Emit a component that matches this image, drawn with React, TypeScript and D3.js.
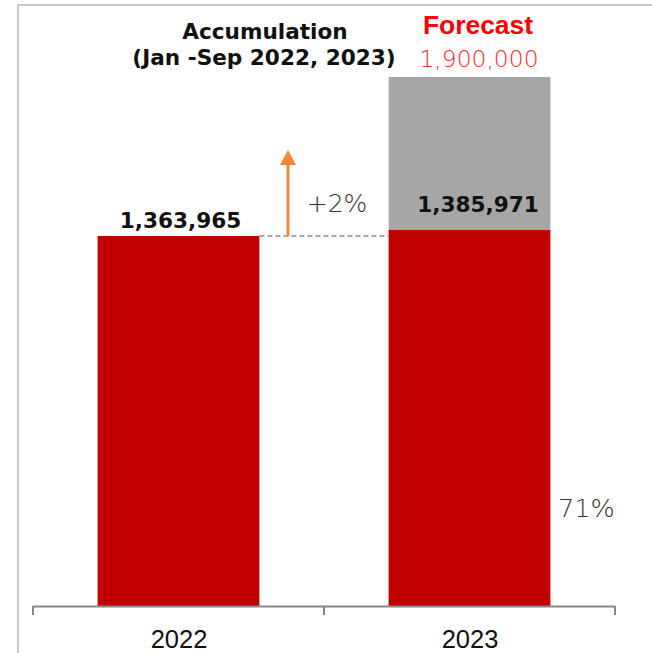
import React from "react";
import * as d3 from "d3";

const categories = ["2022", "2023"];
const actualValues = [1363965, 1385971];
const forecastTotals = [0, 1950000];
const actualLabels = ["1,363,965", "1,385,971"];
const forecastLabel = "1,900,000";
const growthLabel = "+2%";
const shareLabel = "71%";
const titleLines = ["Accumulation", "(Jan -Sep 2022, 2023)"];

const W = 652;
const H = 653;

export default function App() {
  const x = d3.scaleBand<string>().domain(categories).range([33, 615]).padding(0);
  const y = d3.scaleLinear().domain([0, 2000000]).range([606, 63.4]);
  const bw = x.bandwidth() * 0.556;
  const barX = (c: string) => (x(c) as number) + x.bandwidth() / 2 - bw / 2;
  const c0 = categories[0];
  const c1 = categories[1];
  const base0 = y(actualValues[0]);
  const arrowX = 288;
  const boldFont = "'DejaVu Sans', Verdana, sans-serif";
  const lightFont = "'DejaVu Sans', sans-serif";

  return (
    <div style={{ position: "fixed", left: 0, top: 0, width: W, height: H, background: "#fff" }}>
      <svg width={W} height={H} style={{ display: "block" }}>
        <rect x={0} y={0} width={W} height={H} fill="#fff" />
        {/* frame lines */}
        <line x1={17} x2={W} y1={5} y2={5} stroke="#c8c8c8" strokeWidth={2} />
        <line x1={18} x2={18} y1={4} y2={H} stroke="#c8c8c8" strokeWidth={2} />

        {/* forecast grey segment */}
        {categories.map((c, i) =>
          forecastTotals[i] > actualValues[i] ? (
            <rect
              key={"g" + c}
              x={barX(c)}
              y={y(forecastTotals[i])}
              width={bw}
              height={y(actualValues[i]) - y(forecastTotals[i])}
              fill="#a6a6a6"
            />
          ) : null
        )}
        {/* actual red bars */}
        {categories.map((c, i) => (
          <rect
            key={"r" + c}
            x={barX(c)}
            y={y(actualValues[i])}
            width={bw}
            height={y(0) - y(actualValues[i])}
            fill="#c00000"
          />
        ))}

        {/* dashed reference line */}
        <line
          x1={barX(c0) + bw}
          x2={barX(c1)}
          y1={base0}
          y2={base0}
          stroke="#a6a6a6"
          strokeWidth={2}
          strokeDasharray="5,3"
        />
        {/* orange arrow */}
        <line x1={arrowX} x2={arrowX} y1={base0} y2={163} stroke="#f4873a" strokeWidth={3} />
        <path d={`M${arrowX - 8},165 L${arrowX + 8},165 L${arrowX},150 Z`} fill="#f4873a" />

        {/* axis */}
        <line x1={33} x2={615} y1={606.5} y2={606.5} stroke="#868686" strokeWidth={2} />
        {[33, ...categories.map((c) => (x(c) as number) + x.bandwidth())].map((t, i) => (
          <line key={"t" + i} x1={t} x2={t} y1={606} y2={615} stroke="#868686" strokeWidth={2} />
        ))}
        {categories.map((c) => (
          <text
            key={"c" + c}
            x={(x(c) as number) + x.bandwidth() / 2 + 0.5}
            y={648}
            textAnchor="middle"
            fontFamily="'Liberation Sans', Arial, sans-serif"
            fontSize={25.5}
            fill="#111"
          >
            {c}
          </text>
        ))}

        {/* value labels */}
        <text
          x={barX(c0) + bw / 2 + 2}
          y={y(actualValues[0]) - 8}
          textAnchor="middle"
          fontFamily={boldFont}
          fontWeight="bold"
          fontSize={21.6}
          fill="#111"
        >
          {actualLabels[0]}
        </text>
        <text
          x={barX(c1) + bw / 2 + 8.5}
          y={y(actualValues[1]) - 18}
          textAnchor="middle"
          fontFamily={boldFont}
          fontWeight="bold"
          fontSize={21.6}
          fill="#111"
        >
          {actualLabels[1]}
        </text>

        {/* title */}
        <text x={265} y={39} textAnchor="middle" fontFamily={boldFont} fontWeight="bold" fontSize={21.6} fill="#111">
          {titleLines[0]}
        </text>
        <text x={264} y={65} textAnchor="middle" fontFamily={boldFont} fontWeight="bold" fontSize={21.6} fill="#111">
          {titleLines[1]}
        </text>

        {/* forecast heading */}
        <text
          x={478}
          y={34}
          textAnchor="middle"
          fontFamily="'Liberation Sans', Arial, sans-serif"
          fontWeight="bold"
          fontSize={26.4}
          fill="#ff0000"
        >
          Forecast
        </text>
        <text x={479} y={67} textAnchor="middle" fontFamily={lightFont} fontWeight={200} fontSize={23.4} fill="#ff2a2a">
          {forecastLabel}
        </text>

        {/* growth and share */}
        <text x={337} y={212} textAnchor="middle" fontFamily={lightFont} fontWeight={200} fontSize={25} fill="#333">
          {growthLabel}
        </text>
        <text x={558} y={517} textAnchor="start" fontFamily={lightFont} fontWeight={200} fontSize={25.5} fill="#333">
          {shareLabel}
        </text>
      </svg>
    </div>
  );
}
